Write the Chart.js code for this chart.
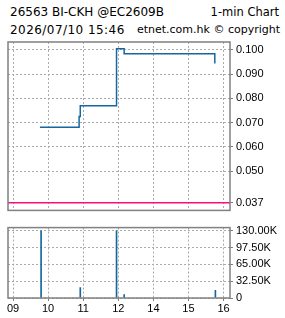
<!DOCTYPE html>
<html>
<head>
<meta charset="utf-8">
<script src="https://cdn.jsdelivr.net/npm/chart.js@4.4.1/dist/chart.umd.min.js"></script>
<style>
  body { margin:0; background:#fff; width:285px; height:318px; overflow:hidden; position:relative; }
  .t { position:absolute; font-family:"DejaVu Sans"; font-size:12px; color:#000; white-space:nowrap; line-height:14px; }
  canvas { position:absolute; left:0; }
</style>
</head>
<body>
<div class="t" style="left:10px;top:5px">26563 BI-CKH @EC2609B</div>
<div class="t" style="right:6px;top:5px;font-size:11.5px">1-min Chart</div>
<div class="t" style="left:10px;top:23px;letter-spacing:0.45px">2026/07/10 15:46</div>
<div class="t" style="right:5px;top:23px;font-size:11px">etnet.com.hk © copyright</div>
<canvas id="priceChart" width="285" height="220" style="top:0"></canvas>
<canvas id="volChart" width="285" height="100" style="top:218px"></canvas>
<script>
// hour labels on the compressed trading axis (lunch break skipped)
const hourLabels = ['09','10','11','12','14','15','16'];

const priceTimes = ['09:46','10:53','10:55','11:57','13:10','15:45'];
const priceValues = [0.0681,0.0725,0.0770,0.1004,0.0984,0.0944];
const refLevel = 0.037;
const priceTicks = [0.037,0.05,0.06,0.07,0.08,0.09,0.1];

const volTimes = ['09:48','10:55','11:57','13:10','15:46'];
const volValues = [130000,20000,130000,6500,15000];
const volTicks = [0,32500,65000,97500,130000];

const xMin = -0.143, xMax = 6.183;
const blue = '#1566a0';
const tickFont = { family: 'Liberation Sans', size: 11 };

// trading time -> position on axis
function slot(t){
  const [h,m] = t.split(':').map(Number);
  if (h < 12 || (h == 12 && m == 0)) return (h - 9) + m/60;
  return 3 + (h - 13) + m/60;
}

const frame = {
  id: 'frame',
  afterDraw(c){
    const a = c.chartArea, ctx = c.ctx;
    ctx.save();
    ctx.strokeStyle = '#808080';
    ctx.lineWidth = 1.5;
    ctx.strokeRect(a.left, a.top, a.right - a.left, a.bottom - a.top);
    ctx.restore();
  }
};

const gridCol = '#ababab';

new Chart(document.getElementById('priceChart'), {
  type: 'line',
  data: {
    datasets: [
      {
        data: priceTimes.map((t,i) => ({x: slot(t), y: priceValues[i]})),
        borderColor: blue, borderWidth: 1.5, pointRadius: 0, stepped: true
      },
      {
        data: [{x: xMin, y: refLevel}, {x: xMax, y: refLevel}],
        borderColor: '#ff0a80', borderWidth: 1.5, pointRadius: 0
      }
    ]
  },
  options: {
    responsive: false, animation: false,
    layout: { padding: { left: 8, top: 42, right: 0, bottom: 4 } },
    plugins: { legend: { display: false }, tooltip: { enabled: false } },
    scales: {
      x: {
        type: 'linear', min: xMin, max: xMax,
        afterBuildTicks: s => { s.ticks = hourLabels.map((_,i) => ({value: i})) },
        ticks: { display: false },
        grid: { color: gridCol, drawTicks: false },
        border: { display: false, dash: [2,2] },
        afterFit: s => { s.height = 0 }
      },
      y: {
        position: 'right', min: 0.0339, max: 0.1032,
        afterBuildTicks: s => { s.ticks = priceTicks.map(v => ({value: v})) },
        ticks: { callback: v => v.toFixed(3), font: tickFont, color: '#000', padding: 3 },
        grid: { color: gridCol, tickLength: 3, tickColor: '#808080' },
        border: { display: false, dash: [2,2] },
        afterFit: s => { s.width = 55 }
      }
    }
  },
  plugins: [frame]
});

new Chart(document.getElementById('volChart'), {
  type: 'bar',
  data: {
    datasets: [{
      data: volTimes.map((t,i) => ({x: slot(t), y: volValues[i]})),
      backgroundColor: blue, barThickness: 1
    }]
  },
  options: {
    responsive: false, animation: false,
    layout: { padding: { left: 8, top: 4, right: 0, bottom: 0 } },
    plugins: { legend: { display: false }, tooltip: { enabled: false } },
    scales: {
      x: {
        type: 'linear', min: xMin, max: xMax, offset: false,
        afterBuildTicks: s => { s.ticks = hourLabels.map((_,i) => ({value: i})) },
        ticks: { callback: v => hourLabels[v], font: tickFont, color: '#000', padding: 1, maxRotation: 0, autoSkip: false },
        grid: { color: gridCol, offset: false, tickLength: 3, tickColor: '#808080' },
        border: { display: false, dash: [2,2] },
        afterFit: s => { s.height = 20 }
      },
      y: {
        position: 'right', min: 0, max: 136000,
        afterBuildTicks: s => { s.ticks = volTicks.map(v => ({value: v})) },
        ticks: { callback: v => v == 0 ? '0' : (v/1000).toFixed(2) + 'K', font: tickFont, color: '#000', padding: 3 },
        grid: { color: gridCol, tickLength: 3, tickColor: '#808080' },
        border: { display: false, dash: [2,2] },
        afterFit: s => { s.width = 55 }
      }
    }
  },
  plugins: [frame]
});
</script>
</body>
</html>
